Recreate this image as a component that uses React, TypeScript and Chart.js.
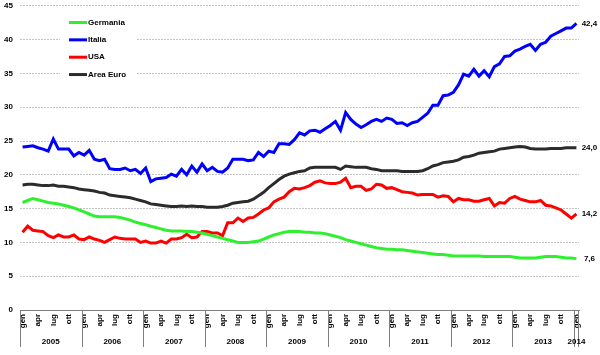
import React, { useEffect, useRef } from 'react';
import { Chart, registerables } from 'chart.js';

Chart.register(...registerables);

const MONTHS = ['gen', 'feb', 'mar', 'apr', 'mag', 'giu', 'lug', 'ago', 'set', 'ott', 'nov', 'dic'];
const YEARS = ['2005', '2006', '2007', '2008', '2009', '2010', '2011', '2012', '2013', '2014'];
const SHOWN_MONTHS = ['gen', 'apr', 'lug', 'ott'];

const LABELS: string[] = [];
YEARS.forEach((y, k) => {
  MONTHS.forEach((m) => {
    if (k < YEARS.length - 1 || m === 'gen') LABELS.push(m + ' ' + y);
  });
});

const Y_MIN = 0;
const Y_MAX = 45;
const Y_STEP = 5;

const germania = [
  15.9, 16.2, 16.5, 16.3, 16.1, 15.9, 15.8, 15.7, 15.5, 15.3, 15.1, 14.8,
  14.5, 14.2, 13.9, 13.8, 13.8, 13.8, 13.8, 13.7, 13.5, 13.3, 13.0, 12.8,
  12.6, 12.4, 12.2, 12.0, 11.8, 11.7, 11.7, 11.7, 11.6, 11.6, 11.5, 11.4,
  11.2, 11.0, 10.8, 10.6, 10.4, 10.2, 10.0, 10.0, 10.0, 10.1, 10.2, 10.5,
  10.8, 11.1, 11.3, 11.5, 11.6, 11.6, 11.6, 11.5, 11.5, 11.4, 11.4, 11.3,
  11.1, 10.9, 10.7, 10.4, 10.2, 10.0, 9.8, 9.6, 9.4, 9.2, 9.1, 9.0,
  9.0, 8.9, 8.9, 8.8, 8.7, 8.6, 8.5, 8.4, 8.3, 8.2, 8.2, 8.1,
  8.0, 8.0, 8.0, 8.0, 8.0, 8.0, 7.9, 7.9, 7.9, 7.9, 7.9, 7.9,
  7.8, 7.7, 7.7, 7.7, 7.7, 7.8, 7.9, 7.9, 7.9, 7.8, 7.7, 7.7,
  7.6,
];

const italia = [
  24.1, 24.2, 24.3, 24.0, 23.8, 23.5, 25.3, 23.8, 23.8, 23.8, 22.8, 23.3,
  22.9, 23.6, 22.3, 22.1, 22.3, 20.9, 20.8, 20.8, 21.0, 20.6, 20.8, 20.2,
  21.0, 19.0, 19.4, 19.5, 19.6, 20.1, 19.8, 20.8, 20.0, 21.3, 20.4, 21.6,
  20.6, 21.1, 20.5, 20.4, 21.0, 22.3, 22.3, 22.3, 22.1, 22.2, 23.3, 22.7,
  23.5, 23.3, 24.6, 24.6, 24.5, 25.2, 26.2, 25.9, 26.5, 26.6, 26.3, 26.8,
  27.3, 27.9, 26.6, 29.2, 28.2, 27.5, 27.0, 27.4, 27.9, 28.2, 27.9, 28.4,
  28.2, 27.6, 27.7, 27.3, 27.7, 27.9, 28.5, 29.1, 30.3, 30.3, 31.7, 31.8,
  32.2, 33.3, 34.9, 34.6, 35.6, 34.6, 35.4, 34.5, 36.0, 36.4, 37.5, 37.6,
  38.3, 38.6, 39.0, 39.3, 38.4, 39.3, 39.6, 40.5, 40.9, 41.3, 41.7, 41.7,
  42.4,
];

const usa = [
  11.5, 12.4, 11.8, 11.7, 11.6, 11.0, 10.7, 11.1, 10.8, 10.8, 11.1, 10.5,
  10.4, 10.8, 10.5, 10.3, 10.0, 10.4, 10.8, 10.6, 10.5, 10.5, 10.5, 10.0,
  10.2, 9.9, 9.9, 10.2, 9.9, 10.5, 10.5, 10.7, 11.2, 10.7, 10.8, 11.6,
  11.6, 11.4, 11.4, 11.0, 12.9, 12.9, 13.6, 13.1, 13.6, 13.7, 14.2, 14.8,
  15.1, 16.0, 16.4, 16.7, 17.5, 18.0, 17.9, 18.1, 18.4, 18.9, 19.1, 18.8,
  18.7, 18.7, 18.9, 19.5, 18.1, 18.3, 18.3, 17.7, 17.9, 18.6, 18.5, 18.0,
  18.1, 17.8, 17.5, 17.4, 17.3, 17.0, 17.1, 17.1, 17.1, 16.7, 16.9, 16.8,
  16.0, 16.5, 16.3, 16.3, 16.1, 16.1, 16.3, 16.5, 15.4, 15.9, 15.8, 16.5,
  16.8, 16.4, 16.2, 16.0, 16.0, 16.2, 15.5, 15.4, 15.1, 14.8, 14.2, 13.6,
  14.2,
];

const areaEuro = [
  18.5, 18.6, 18.6, 18.5, 18.4, 18.4, 18.5, 18.3, 18.3, 18.2, 18.1, 17.9,
  17.8, 17.7, 17.6, 17.4, 17.3, 17.0, 16.9, 16.8, 16.7, 16.6, 16.4, 16.2,
  16.0, 15.7, 15.6, 15.5, 15.4, 15.3, 15.3, 15.4, 15.3, 15.4, 15.3, 15.3,
  15.2, 15.2, 15.2, 15.3, 15.5, 15.8, 15.9, 16.0, 16.1, 16.4, 16.9, 17.4,
  18.1, 18.7, 19.3, 19.8, 20.1, 20.3, 20.5, 20.6, 21.0, 21.1, 21.1, 21.1,
  21.1, 21.1, 20.8, 21.3, 21.2, 21.1, 21.1, 21.1, 20.9, 20.8, 20.6, 20.6,
  20.6, 20.6, 20.5, 20.5, 20.5, 20.5, 20.6, 20.9, 21.3, 21.5, 21.8, 21.9,
  22.0, 22.2, 22.6, 22.7, 22.9, 23.2, 23.3, 23.4, 23.5, 23.8, 23.9, 24.0,
  24.1, 24.2, 24.1, 23.9, 23.8, 23.8, 23.8, 23.9, 23.9, 23.9, 24.0, 24.0,
  24.0,
];

const SERIES_NAMES = ['Germania', 'Italia', 'USA', 'Area Euro'];
const SERIES_DATA = [germania, italia, usa, areaEuro];
const SERIES_COLORS = ['#2ef02e', '#0000ff', '#ff0000', '#2b2b2b'];

const FONT_FAMILY = '"Liberation Sans", Arial, Helvetica, sans-serif';
const BOLD8 = 'bold 8px ' + FONT_FAMILY;

const fmt = (v: number) => v.toFixed(1).replace('.', ',');

const overlayPlugin = {
  id: 'overlay',
  afterDraw(chart: any) {
    const ctx = chart.ctx as CanvasRenderingContext2D;
    const xs = chart.scales.x;
    const area = chart.chartArea;
    ctx.save();

    // Year row with separators
    const half = (xs.getPixelForValue(1) - xs.getPixelForValue(0)) / 2;
    const top = xs.top;
    const bottom = top + 37;
    ctx.strokeStyle = '#7f7f7f';
    ctx.lineWidth = 1;
    ctx.font = BOLD8;
    ctx.fillStyle = '#000';
    ctx.textAlign = 'center';
    ctx.textBaseline = 'middle';
    YEARS.forEach((yr, k) => {
      const first = k * 12;
      const last = Math.min(first + 11, LABELS.length - 1);
      const left = xs.getPixelForValue(first) - half;
      const right = xs.getPixelForValue(last) + half;
      const lx = Math.round(left) + 0.5;
      ctx.beginPath();
      ctx.moveTo(lx, top);
      ctx.lineTo(lx, bottom);
      ctx.stroke();
      if (k === YEARS.length - 1) {
        const rx = Math.round(right) - 0.5;
        ctx.beginPath();
        ctx.moveTo(rx, top);
        ctx.lineTo(rx, bottom);
        ctx.stroke();
      }
      ctx.fillText(yr, (left + right) / 2, top + 32);
    });

    // End value labels
    chart.data.datasets.forEach((ds: any, i: number) => {
      const meta = chart.getDatasetMeta(i);
      const lastIdx = ds.data.length - 1;
      const pt = meta.data[lastIdx];
      ctx.textAlign = 'center';
      ctx.fillText(fmt(ds.data[lastIdx]), pt.x + 13, pt.y);
    });

    // Legend inside the chart area
    const lx0 = area.left + 40;
    const ly0 = area.top + 8;
    ctx.fillStyle = '#ffffff';
    ctx.fillRect(lx0, ly0, 77, 74);
    SERIES_NAMES.forEach((name, i) => {
      const y = area.top + 16.7 + i * 17.35;
      ctx.strokeStyle = SERIES_COLORS[i];
      ctx.lineWidth = 3;
      ctx.beginPath();
      ctx.moveTo(area.left + 49, y);
      ctx.lineTo(area.left + 67, y);
      ctx.stroke();
      ctx.fillStyle = '#000';
      ctx.textAlign = 'left';
      ctx.fillText(name, area.left + 68, y);
    });
    ctx.restore();
  },
};

function LineChart() {
  const ref = useRef<HTMLCanvasElement | null>(null);
  useEffect(() => {
    if (!ref.current) return;
    Chart.defaults.font.family = FONT_FAMILY;
    const chart = new Chart(ref.current, {
      type: 'line',
      data: {
        labels: LABELS,
        datasets: SERIES_NAMES.map((name, i) => ({
          label: name,
          data: SERIES_DATA[i],
          borderColor: SERIES_COLORS[i],
          backgroundColor: SERIES_COLORS[i],
          borderWidth: 3,
          pointRadius: 0,
          tension: 0,
          fill: false,
        })),
      },
      options: {
        animation: false,
        responsive: true,
        maintainAspectRatio: false,
        layout: { padding: { top: 0, right: 21, left: 0, bottom: 0 } },
        plugins: {
          legend: { display: false },
          tooltip: { enabled: false },
        },
        scales: {
          x: {
            type: 'category',
            offset: true,
            grid: { display: false, drawTicks: false, drawOnChartArea: false },
            border: { display: true, color: '#7f7f7f', width: 1 },
            ticks: {
              autoSkip: false,
              minRotation: 90,
              maxRotation: 90,
              padding: 4,
              color: '#000',
              font: { size: 8, weight: 'bold', family: FONT_FAMILY },
              callback: (_v: any, index: number) =>
                index % 3 === 0 ? SHOWN_MONTHS[(index % 12) / 3] : '',
            },
            afterFit: (scale: any) => {
              scale.height = 45;
            },
          },
          y: {
            min: Y_MIN,
            max: Y_MAX,
            grid: {
              drawTicks: true,
              tickLength: 6,
              tickColor: 'rgba(0,0,0,0)',
              color: (c: any) => (c.tick && c.tick.value === 0 ? 'rgba(0,0,0,0)' : '#c4c4c4'),
              lineWidth: 1,
            },
            border: { display: false, dash: [2, 1] },
            ticks: {
              stepSize: Y_STEP,
              padding: 1,
              color: '#000',
              font: { size: 8, weight: 'bold', family: FONT_FAMILY },
            },
            afterFit: (scale: any) => {
              scale.width = 20;
            },
          },
        },
      },
      plugins: [overlayPlugin],
    });
    return () => chart.destroy();
  }, []);
  return <canvas ref={ref} />;
}

export default function App() {
  return (
    <div style={{ position: 'absolute', left: 0, top: 0, width: 600, height: 355, background: '#fff' }}>
      <LineChart />
    </div>
  );
}
